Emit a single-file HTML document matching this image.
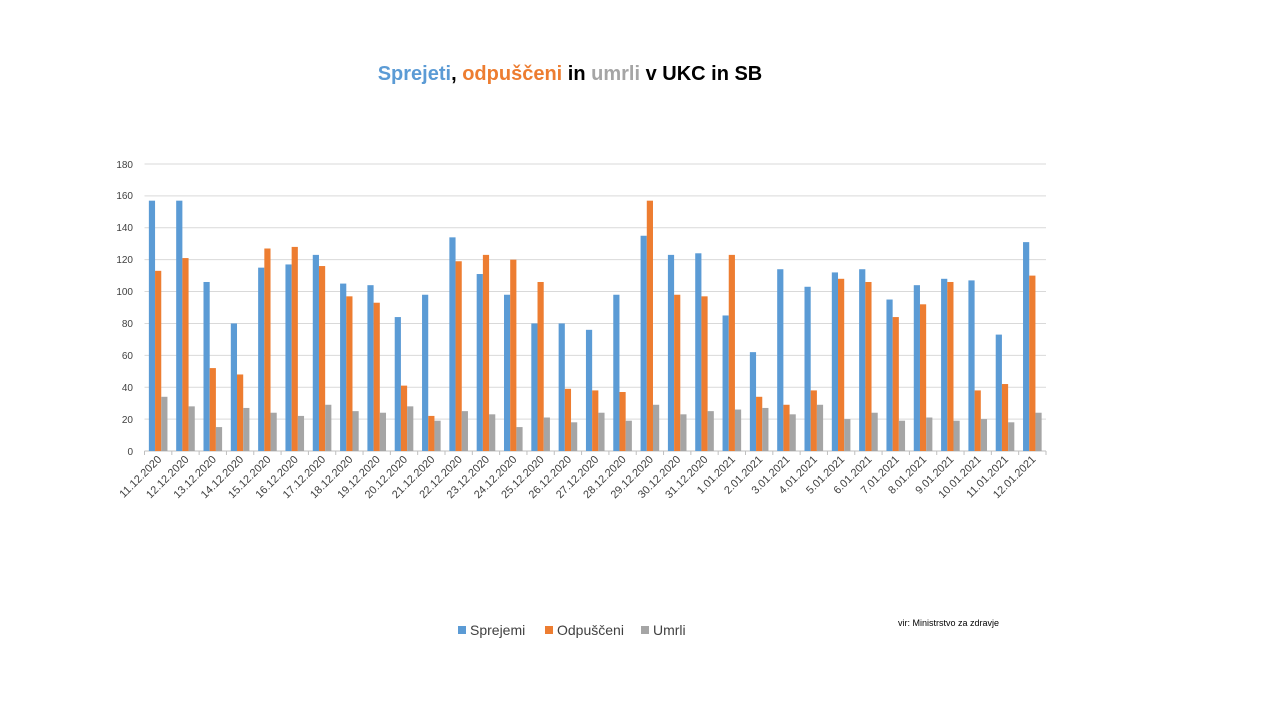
<!DOCTYPE html>
<html><head><meta charset="utf-8"><style>
html,body{margin:0;padding:0;background:#fff;width:1280px;height:720px;overflow:hidden}
svg{display:block}
text{font-family:"Liberation Sans",sans-serif}
</style></head><body>
<svg id="s" width="1280" height="720" xmlns="http://www.w3.org/2000/svg">
<text x="570" y="80" text-anchor="middle" font-size="20" font-weight="bold"><tspan fill="#5b9bd5">Sprejeti</tspan><tspan fill="#000">, </tspan><tspan fill="#ed7d31">odpuščeni</tspan><tspan fill="#000"> in </tspan><tspan fill="#a5a5a5">umrli</tspan><tspan fill="#000"> v UKC in SB</tspan></text>
<g id="grid"></g>
<g id="bars"></g>
<g font-size="10" fill="#404040" text-anchor="end">
<text x="133" y="455">0</text><text x="133" y="423">20</text><text x="133" y="391">40</text><text x="133" y="359">60</text><text x="133" y="327">80</text><text x="133" y="295">100</text><text x="133" y="263">120</text><text x="133" y="231">140</text><text x="133" y="199">160</text><text x="133" y="168">180</text>
</g>
<g id="xl" font-size="11" fill="#404040" text-anchor="end">
<text>11.12.2020</text><text>12.12.2020</text><text>13.12.2020</text><text>14.12.2020</text><text>15.12.2020</text><text>16.12.2020</text><text>17.12.2020</text><text>18.12.2020</text><text>19.12.2020</text><text>20.12.2020</text><text>21.12.2020</text><text>22.12.2020</text><text>23.12.2020</text><text>24.12.2020</text><text>25.12.2020</text><text>26.12.2020</text><text>27.12.2020</text><text>28.12.2020</text><text>29.12.2020</text><text>30.12.2020</text><text>31.12.2020</text><text>1.01.2021</text><text>2.01.2021</text><text>3.01.2021</text><text>4.01.2021</text><text>5.01.2021</text><text>6.01.2021</text><text>7.01.2021</text><text>8.01.2021</text><text>9.01.2021</text><text>10.01.2021</text><text>11.01.2021</text><text>12.01.2021</text>
</g>
<rect x="458" y="626" width="8" height="8" fill="#5b9bd5"/><text x="470" y="635" font-size="14" fill="#404040">Sprejemi</text>
<rect x="545" y="626" width="8" height="8" fill="#ed7d31"/><text x="557" y="635" font-size="14" fill="#404040">Odpuščeni</text>
<rect x="641" y="626" width="8" height="8" fill="#a5a5a5"/><text x="653" y="635" font-size="14" fill="#404040">Umrli</text>
<text x="898" y="626" font-size="9" fill="#000">vir: Ministrstvo za zdravje</text>
</svg>
<script>
var B=[157,157,106,80,115,117,123,105,104,84,98,134,111,98,80,80,76,98,135,123,124,85,62,114,103,112,114,95,104,108,107,73,131];
var O=[113,121,52,48,127,128,116,97,93,41,22,119,123,120,106,39,38,37,157,98,97,123,34,29,38,108,106,84,92,106,38,42,110];
var G=[34,28,15,27,24,22,29,25,24,28,19,25,23,15,21,18,24,19,29,23,25,26,27,23,29,20,24,19,21,19,20,18,24];
var ns="http://www.w3.org/2000/svg",x0=144.5,x1=1046,n=33,cw=(x1-x0)/n,y0=451,k=(451-164)/180,w=6.2,off=(cw-3*w)/2;
function el(t,a,p){var e=document.createElementNS(ns,t);for(var i in a)e.setAttribute(i,a[i]);p.appendChild(e);return e}
var g=document.getElementById('grid');
for(var v=20;v<=180;v+=20){var y=y0-v*k;el('line',{x1:x0,x2:x1,y1:y,y2:y,stroke:'#d9d9d9','stroke-width':1},g)}
el('line',{x1:x0,x2:x1,y1:y0,y2:y0,stroke:'#bfbfbf','stroke-width':1},g);
for(var i=0;i<=n;i++){var x=x0+i*cw;el('line',{x1:x,x2:x,y1:y0,y2:y0+4,stroke:'#bfbfbf'},g)}
var b=document.getElementById('bars'),S=[B,O,G],C=['#5b9bd5','#ed7d31','#a5a5a5'];
for(var i=0;i<n;i++)for(var s=0;s<3;s++){var h=S[s][i]*k;el('rect',{x:x0+i*cw+off+s*w,y:y0-h,width:w,height:h,fill:C[s]},b)}
var t=document.getElementById('xl').children;
for(var i=0;i<t.length;i++){var cx=x0+(i+0.5)*cw+4,cy=460;t[i].setAttribute('x',cx);t[i].setAttribute('y',cy);t[i].setAttribute('transform','rotate(-45 '+cx+' '+cy+')')}
</script>
</body></html>
